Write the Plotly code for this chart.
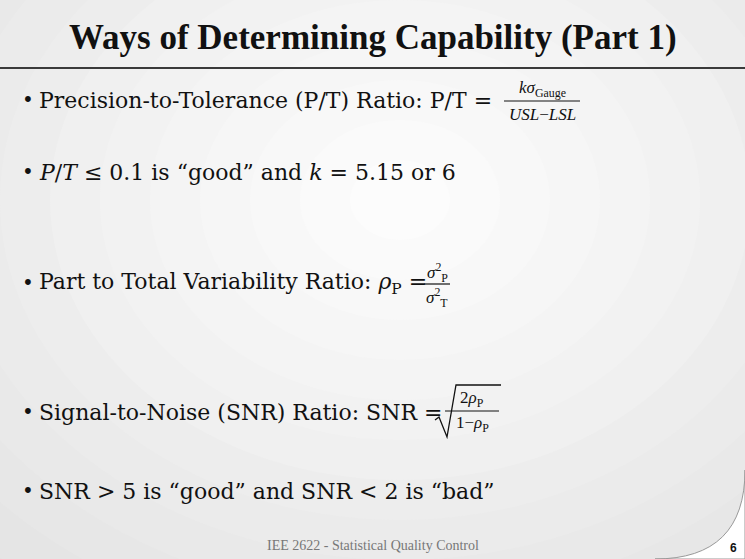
import plotly.graph_objects as go

title = "Ways of Determining Capability (Part 1)"
bullets = [
    "Precision-to-Tolerance (P/T) Ratio: P/T = ",
    "<i>P</i>/<i>T</i> ≤ 0.1 is “good” and <i>k</i> = 5.15 or 6",
    "Part to Total Variability Ratio: <i>ρ</i><sub>P</sub> = ",
    "Signal-to-Noise (SNR) Ratio: SNR = ",
    "SNR > 5 is “good” and SNR < 2 is “bad”",
]
bullet_y = [100, 172, 283, 412, 491]
footer = "IEE 2622 - Statistical Quality Control"
page = "6"

W, H = 745, 559
serif = "DejaVu Serif"
fig = go.Figure()
shapes = []
n = 14
for i in range(n):
    r = 700 * (1 - i / n)
    g = int(225 + 30 * i / n)
    shapes.append(dict(type="circle", x0=400 - r, x1=400 + r, y0=200 - r * 0.8, y1=200 + r * 0.8,
                       fillcolor=f"rgb({g},{g},{g})", line_width=0, layer="below"))
shapes.append(dict(type="line", x0=0, x1=W, y0=68, y1=68, line=dict(color="#3a3a3a", width=2)))
shapes.append(dict(type="path", path=f"M {W} 470 Q {W} {H} 655 {H} L {W} {H} Z",
                   fillcolor="white", line=dict(color="#999", width=1)))
ann = []
ann.append(dict(x=W / 2, y=37, text=f"<b>{title}</b>", font=dict(family="Liberation Serif", size=35, color="#111")))
for t, y in zip(bullets, bullet_y):
    ann.append(dict(x=20, y=y, text="•", xanchor="left", font=dict(family=serif, size=20, color="#111")))
    ann.append(dict(x=37, y=y, text=t, xanchor="left", font=dict(family=serif, size=22, color="#111")))

fs = 17
def frac(xc, yl, w, num, den):
    shapes.append(dict(type="line", x0=xc - w / 2, x1=xc + w / 2, y0=yl, y1=yl, line=dict(color="#111", width=1.2)))
    ann.append(dict(x=xc, y=yl - 12, text=num, font=dict(family="Liberation Serif", size=fs, color="#111")))
    ann.append(dict(x=xc, y=yl + 13, text=den, font=dict(family="Liberation Serif", size=fs, color="#111")))

frac(542, 101, 76, "<i>kσ</i><sub>Gauge</sub>", "<i>USL</i>−<i>LSL</i>")
frac(437, 284, 26, "<i>σ</i><sup>2</sup><sub>P</sub>", "<i>σ</i><sup>2</sup><sub>T</sub>")
frac(472, 411, 54, "2<i>ρ</i><sub>P</sub>", "1−<i>ρ</i><sub>P</sub>")
shapes.append(dict(type="path", path="M 435 420 L 439 417 L 447 437 L 456 385 L 501 385",
                   line=dict(color="#111", width=1.3)))

ann.append(dict(x=W / 2, y=545, text=footer, font=dict(family="Liberation Serif", size=14, color="#777")))
ann.append(dict(x=733, y=548, text=f"<b>{page}</b>", font=dict(family="Liberation Sans", size=12, color="#111")))
for a in ann:
    a.update(showarrow=False, xref="x", yref="y")

fig.update_layout(width=W, height=H, margin=dict(l=0, r=0, t=0, b=0),
                  paper_bgcolor="#e2e2e2", plot_bgcolor="rgba(0,0,0,0)",
                  xaxis=dict(range=[0, W], visible=False, fixedrange=True),
                  yaxis=dict(range=[H, 0], visible=False, fixedrange=True),
                  shapes=shapes, annotations=ann, showlegend=False)
fig.write_html("out.html", config={"displayModeBar": False})
with open("out.html", encoding="utf-8") as f:
    html = f.read()
html = html.replace("<head>", "<head><style>html,body{margin:0;padding:0;overflow:hidden}</style>", 1)
with open("out.html", "w", encoding="utf-8") as f:
    f.write(html)
